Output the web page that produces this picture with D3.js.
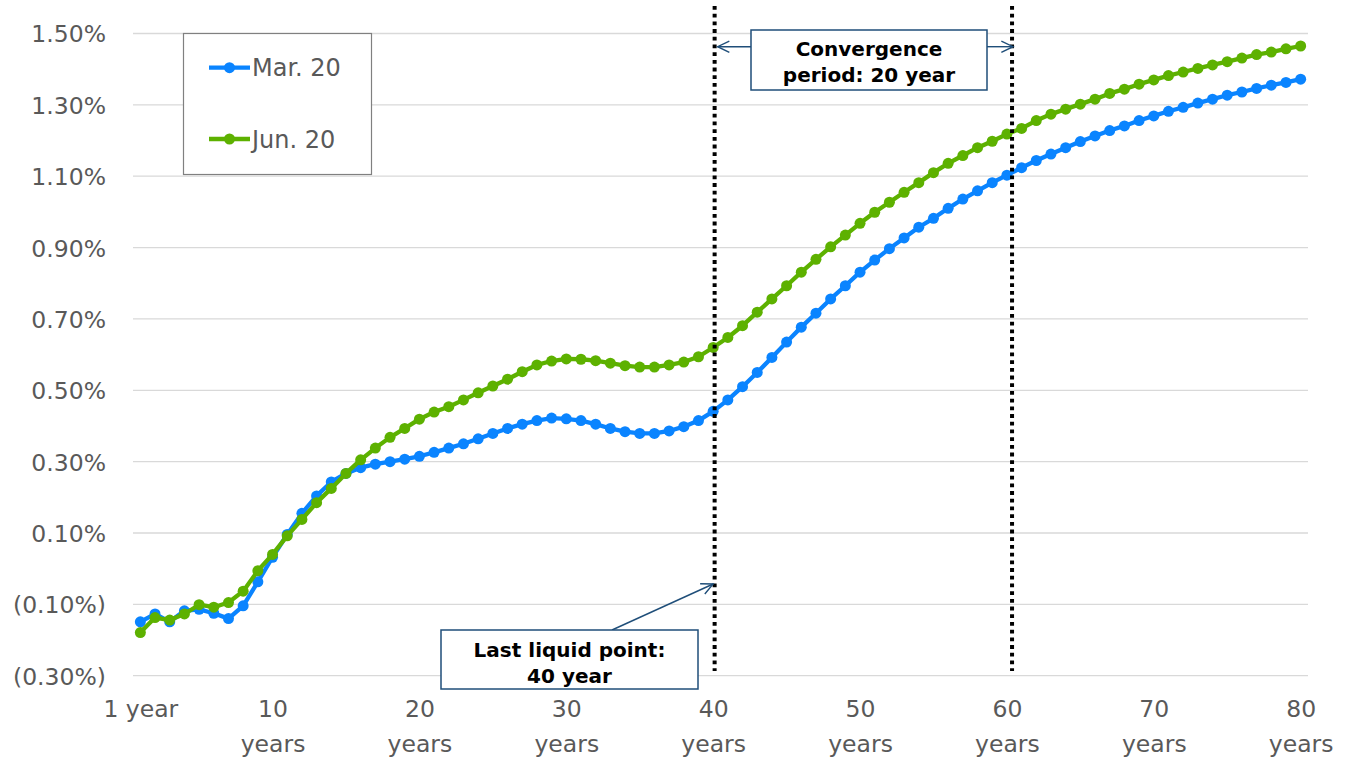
<!DOCTYPE html>
<html>
<head>
<meta charset="utf-8">
<script src="https://cdnjs.cloudflare.com/ajax/libs/d3/7.8.5/d3.min.js"></script>
<style>
  html, body { margin: 0; padding: 0; background: #fff; }
  svg { display: block; font-family: "DejaVu Sans", Verdana, sans-serif; }
</style>
</head>
<body>
<svg id="chart" width="1352" height="764"></svg>
<script>
// Maturities (years) on the category axis
const maturities = d3.range(1, 81);

// Yield curve, March 2020 (%)
const mar20 = [
  -0.149, -0.127, -0.149, -0.118, -0.114, -0.125, -0.140, -0.104, -0.037, 0.032,
   0.096,  0.155,  0.204,  0.243,  0.267,  0.283,  0.293,  0.300,  0.307, 0.315,
   0.326,  0.338,  0.350,  0.364,  0.379,  0.393,  0.405,  0.415,  0.422, 0.420,
   0.415,  0.405,  0.393,  0.384,  0.379,  0.379,  0.386,  0.398,  0.415, 0.441,
   0.473,  0.510,  0.550,  0.592,  0.635,  0.677,  0.716,  0.756,  0.793, 0.831,
   0.865,  0.897,  0.927,  0.957,  0.982,  1.010,  1.036,  1.059,  1.082, 1.103,
   1.124,  1.144,  1.162,  1.180,  1.197,  1.213,  1.228,  1.241,  1.256, 1.269,
   1.282,  1.293,  1.305,  1.316,  1.327,  1.336,  1.346,  1.355,  1.363, 1.372
];

// Yield curve, June 2020 (%)
const jun20 = [
  -0.179, -0.137, -0.144, -0.127, -0.101, -0.108, -0.095, -0.063, -0.006, 0.040,
   0.092,  0.138,  0.185,  0.225,  0.267,  0.305,  0.338,  0.368,  0.393, 0.419,
   0.439,  0.454,  0.473,  0.493,  0.512,  0.531,  0.552,  0.571,  0.582, 0.588,
   0.587,  0.583,  0.576,  0.569,  0.565,  0.565,  0.571,  0.579,  0.594, 0.620,
   0.648,  0.681,  0.719,  0.756,  0.793,  0.831,  0.867,  0.902,  0.935, 0.968,
   0.999,  1.027,  1.055,  1.082,  1.110,  1.136,  1.158,  1.180,  1.198, 1.218,
   1.234,  1.256,  1.274,  1.288,  1.302,  1.316,  1.332,  1.344,  1.358, 1.370,
   1.382,  1.392,  1.402,  1.412,  1.421,  1.431,  1.441,  1.448,  1.457, 1.465
];

const seriesNames = ["Mar. 20", "Jun. 20"];
const seriesColors = ["#0A84FF", "#5DB100"];

// Axis ticks
const yTicks = [-0.3, -0.1, 0.1, 0.3, 0.5, 0.7, 0.9, 1.1, 1.3, 1.5];
const xTicks = [1, 10, 20, 30, 40, 50, 60, 70, 80];
const xTickLabels = [["1 year"], ["10", "years"], ["20", "years"], ["30", "years"],
  ["40", "years"], ["50", "years"], ["60", "years"], ["70", "years"], ["80", "years"]];

// Reference maturities marked with dotted lines
const lastLiquidPoint = 40.1;
const convergenceEnd = 60.35;

const svg = d3.select("#chart");
const plot = { left: 133, right: 1308, top: 33.5, bottom: 675.7 };

const x = d3.scaleLinear().domain([0.5, 80.5]).range([plot.left, plot.right]);
const y = d3.scaleLinear().domain([-0.3, 1.5]).range([plot.bottom, plot.top]);

const fmtPct = v => {
  const s = Math.abs(v).toFixed(2) + "%";
  return v < 0 ? "(" + s + ")" : s;
};

// Horizontal gridlines
svg.append("g").selectAll("line").data(yTicks).join("line")
  .attr("x1", plot.left).attr("x2", plot.right)
  .attr("y1", d => y(d)).attr("y2", d => y(d))
  .attr("stroke", "#d9d9d9").attr("stroke-width", 1.3);

// Y axis labels
const yAxis = d3.axisLeft(y).tickValues(yTicks).tickFormat(fmtPct).tickSize(0).tickPadding(0);
const gy = svg.append("g").attr("transform", "translate(106,0)").call(yAxis);
gy.select(".domain").remove();
gy.selectAll("text").attr("font-size", 23.5).attr("fill", "#595959")
  .attr("font-family", "DejaVu Sans, Verdana, sans-serif").attr("dy", "0.36em");

// X axis labels (two-line category labels)
const xAxis = d3.axisBottom(x).tickValues(xTicks).tickSize(0).tickFormat("");
const gx = svg.append("g").attr("transform", `translate(0,${plot.bottom})`).call(xAxis);
gx.select(".domain").remove();
gx.selectAll(".tick").each(function(d, i) {
  const t = d3.select(this).select("text")
    .attr("font-size", 23.5).attr("fill", "#595959")
    .attr("font-family", "DejaVu Sans, Verdana, sans-serif")
    .attr("text-anchor", "middle").attr("y", 0).attr("dy", null);
  xTickLabels[i].forEach((s, k) => {
    t.append("tspan").attr("x", 0).attr("y", 41.5 + k * 35).text(s);
  });
});

// Series lines with markers
const series = [mar20, jun20];
const line = d3.line().x((d, i) => x(maturities[i])).y(d => y(d));
series.forEach((vals, si) => {
  const g = svg.append("g");
  g.append("path").datum(vals).attr("d", line)
    .attr("fill", "none").attr("stroke", seriesColors[si])
    .attr("stroke-width", 4.3).attr("stroke-linejoin", "round");
  g.selectAll("circle").data(vals).join("circle")
    .attr("cx", (d, i) => x(maturities[i])).attr("cy", d => y(d))
    .attr("r", 5.5).attr("fill", seriesColors[si]);
});

// Dotted reference lines
[lastLiquidPoint, convergenceEnd].forEach(m => {
  svg.append("line")
    .attr("x1", x(m)).attr("x2", x(m)).attr("y1", 6).attr("y2", 671)
    .attr("stroke", "#000").attr("stroke-width", 4)
    .attr("stroke-dasharray", "3.8,3.9");
});

// Open-headed arrow helper
const navy = "#1F4E79";
function arrow(x1, y1, x2, y2) {
  const a = Math.atan2(y2 - y1, x2 - x1), len = 13, spread = 0.45;
  svg.append("line").attr("x1", x1).attr("y1", y1).attr("x2", x2).attr("y2", y2)
    .attr("stroke", navy).attr("stroke-width", 1.4);
  svg.append("path")
    .attr("d", `M${x2 - len * Math.cos(a - spread)},${y2 - len * Math.sin(a - spread)}` +
               `L${x2},${y2}` +
               `L${x2 - len * Math.cos(a + spread)},${y2 - len * Math.sin(a + spread)}`)
    .attr("fill", "none").attr("stroke", navy).attr("stroke-width", 1.4);
}

function noteBox(x0, y0, w, h, lines, lineY) {
  svg.append("rect").attr("x", x0).attr("y", y0).attr("width", w).attr("height", h)
    .attr("fill", "#fff").attr("stroke", navy).attr("stroke-width", 1.5);
  lines.forEach((s, k) => {
    svg.append("text").attr("x", x0 + w / 2).attr("y", lineY[k])
      .attr("text-anchor", "middle").attr("font-size", 20).attr("font-weight", "bold")
      .attr("fill", "#000").text(s);
  });
}

// Convergence period annotation
const cy = 46.7;
arrow(751, cy, x(lastLiquidPoint) + 3, cy);
arrow(987, cy, x(convergenceEnd) + 1, cy);
noteBox(751, 30, 236, 60, ["Convergence", "period: 20 year"], [55.5, 81.5]);

// Last liquid point annotation
arrow(612, 630, x(lastLiquidPoint) - 1.5, 584);
noteBox(441, 630, 257, 59, ["Last liquid point:", "40 year"], [657, 682.5]);

// Legend
const lg = svg.append("g");
lg.append("rect").attr("x", 183.5).attr("y", 33.5).attr("width", 188).attr("height", 141)
  .attr("fill", "#fff").attr("stroke", "#808080").attr("stroke-width", 1.2);
[67.7, 139].forEach((ly, si) => {
  lg.append("line").attr("x1", 209).attr("x2", 250).attr("y1", ly).attr("y2", ly)
    .attr("stroke", seriesColors[si]).attr("stroke-width", 4.3);
  lg.append("circle").attr("cx", 229.5).attr("cy", ly).attr("r", 5.5).attr("fill", seriesColors[si]);
  lg.append("text").attr("x", 252).attr("y", ly + 8.5).attr("font-size", 24)
    .attr("fill", "#595959").text(seriesNames[si]);
});
</script>
</body>
</html>
